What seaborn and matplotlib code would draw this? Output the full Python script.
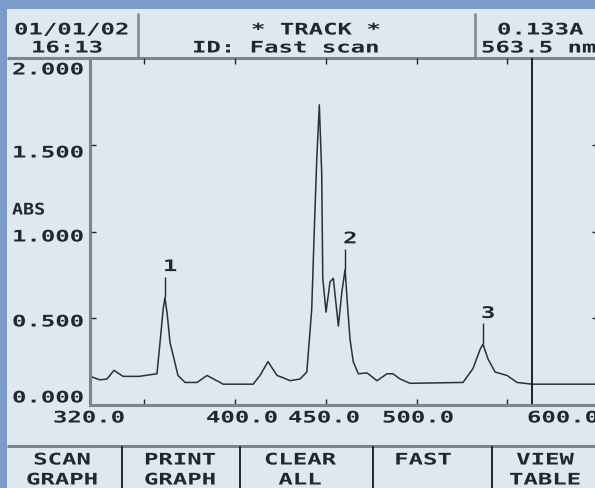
import matplotlib.patheffects as pe
import matplotlib.pyplot as plt
import pandas as pd
import seaborn as sns
from matplotlib.patches import Rectangle
from matplotlib.transforms import Affine2D

# scan data
wavelength_nm = [320.0, 325.5, 329.4, 333.2, 338.2, 347.0, 356.9, 358.6, 360.3, 361.3,
                 362.6, 364.1, 366.9, 368.5, 372.4, 379.0, 384.5, 391.7, 393.3, 409.9,
                 413.7, 418.1, 423.1, 425.8, 430.3, 435.8, 439.5, 442.2, 443.6, 445.0,
                 446.4, 447.7, 448.3, 450.1, 452.3, 454.1, 456.9, 458.8, 460.6, 462.1,
                 463.3, 465.1, 467.9, 472.7, 478.2, 483.7, 487.0, 490.9, 496.4, 525.6,
                 531.1, 535.0, 536.6, 539.4, 543.3, 549.9, 555.4, 563.7, 600.0]
absorbance = [0.165, 0.145, 0.150, 0.200, 0.165, 0.165, 0.180, 0.360, 0.550, 0.620,
              0.520, 0.360, 0.240, 0.170, 0.130, 0.130, 0.170, 0.130, 0.120, 0.120,
              0.170, 0.250, 0.170, 0.160, 0.140, 0.150, 0.190, 0.550, 1.000, 1.420,
              1.730, 1.340, 0.730, 0.535, 0.710, 0.730, 0.455, 0.650, 0.780, 0.550,
              0.380, 0.250, 0.180, 0.185, 0.140, 0.180, 0.180, 0.150, 0.125, 0.130,
              0.210, 0.320, 0.350, 0.265, 0.190, 0.170, 0.130, 0.120, 0.120]

peak_labels = ['1', '2', '3']
peak_nm = [361.3, 460.6, 536.6]
peak_abs = [0.620, 0.780, 0.350]

cursor_nm = 563.5
x_ticks = [350, 400, 450, 500, 550]
y_ticks = [0.5, 1.0, 1.5]
x_tick_labels = ['320.0', '400.0', '450.0', '500.0', '600.0']
y_tick_labels = ['2.000', '1.500', '1.000', '0.500', '0.000']
y_axis_label = 'ABS'

header_date = ['01/01/02', '16:13']
header_mode = ['* TRACK *', 'ID: Fast scan']
header_reading = ['0.133A', '563.5 nm']
button_labels = [['SCAN', 'GRAPH'], ['PRINT', 'GRAPH'], ['CLEAR', 'ALL'],
                 ['FAST'], ['VIEW', 'TABLE']]

BORDER = '#7b9bcb'
PANEL = '#dde9ee'
INK = '#22272b'
RULE = '#7c878d'
W, H = 595, 489


class WideGlyphs(pe.AbstractPathEffect):
    """Stretch glyphs sideways, like the wide LCD font."""

    def __init__(self, sx=1.5):
        super().__init__()
        self.sx = sx

    def draw_path(self, renderer, gc, tpath, affine, rgbFace=None):
        renderer.draw_path(gc, tpath, Affine2D().scale(self.sx, 1.0) + affine, rgbFace)


sns.set_theme(style='ticks')
plt.rcParams['font.family'] = ['DejaVu Sans Mono', 'DejaVu Sans']

fig = plt.figure(figsize=(W / 100, H / 100), dpi=100)
fig.patch.set_facecolor(BORDER)

# full-figure layer in pixel coords for the screen frame and its text
bg = fig.add_axes([0, 0, 1, 1])
bg.set_xlim(0, W)
bg.set_ylim(H, 0)
bg.axis('off')
bg.add_patch(Rectangle((7, 10), W, H, facecolor=PANEL, edgecolor='none'))


def lcd(x, y, s, size=11.5, sx=1.5):
    bg.text(x, y, s, fontsize=size, weight='bold', color=INK, ha='left', va='center',
            path_effects=[WideGlyphs(sx)])


# header
bg.plot([7, W], [59, 59], color=RULE, lw=2.2, solid_capstyle='butt')
for x in [138, 475]:
    bg.plot([x, x], [14, 59], color=RULE, lw=1.8, solid_capstyle='butt')
lcd(14, 31, header_date[0])
lcd(31, 49, header_date[1])
lcd(251, 31, header_mode[0])
lcd(192, 49, header_mode[1])
lcd(497, 31, header_reading[0])
lcd(481, 49, header_reading[1])

# footer buttons
bg.plot([7, W], [447, 447], color=RULE, lw=2.2, solid_capstyle='butt')
for x in [122, 240, 373, 492]:
    bg.plot([x, x], [447, H], color=INK, lw=1.4, solid_capstyle='butt')
button_centers = [62, 180, 300, 423, 545]
for cx, lines in zip(button_centers, button_labels):
    for i, word in enumerate(lines):
        lcd(cx - len(word) * 7.2, 461 + i * 20, word)

# axis labels, drawn the way the instrument does
for lbl, y in zip(y_tick_labels, [71, 154, 238, 323, 399]):
    lcd(12, y, lbl)
lcd(12, 211, y_axis_label, sx=1.15)
for lbl, x in zip(x_tick_labels, [53, 206, 288, 382, 527]):
    lcd(x, 419, lbl)

# plot area
ax = fig.add_axes([90 / W, 1 - 406 / H, 508 / W, 347 / H])
ax.patch.set_alpha(0)
scan = pd.DataFrame({'nm': wavelength_nm, 'abs': absorbance})
sns.lineplot(data=scan, x='nm', y='abs', ax=ax, color='#2b3034', lw=1.1)
ax.axvline(cursor_nm, color='#111111', lw=1.3)

marker_top = [a + 0.12 for a in peak_abs]
ax.vlines(peak_nm, peak_abs, marker_top, color=INK, lw=1.0)
for lbl, nm, top in zip(peak_labels, peak_nm, marker_top):
    ax.annotate(lbl, (nm, top), xytext=(-2, 10), textcoords='offset pixels',
                fontsize=11.5, weight='bold', color=INK, ha='left', va='center',
                path_effects=[WideGlyphs(1.5)])

ax.set_xlim(320, 600)
ax.set_ylim(0, 2)
ax.set_xticks(x_ticks)
ax.set_yticks(y_ticks)
ax.set_xlabel('')
ax.set_ylabel('')
ax.tick_params(direction='in', length=4.5, width=1, color=INK, top=True, right=True,
               labelbottom=False, labelleft=False)
for side in ['top', 'right']:
    ax.spines[side].set_visible(False)
for side in ['left', 'bottom']:
    ax.spines[side].set_color(RULE)
    ax.spines[side].set_linewidth(2.2)

fig.savefig('out.png', dpi=100, facecolor=fig.get_facecolor())
